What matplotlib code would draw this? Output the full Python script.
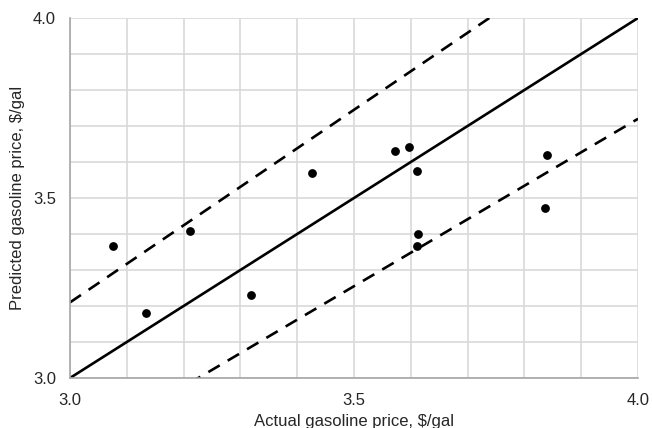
import numpy as np
import matplotlib
matplotlib.use('Agg')
import matplotlib.pyplot as plt

# Observed (actual) vs predicted gasoline prices, $/gal
actual = [3.076, 3.134, 3.211, 3.319, 3.426, 3.572, 3.597, 3.611, 3.613, 3.611, 3.840, 3.836]
predicted = [3.367, 3.181, 3.408, 3.231, 3.569, 3.631, 3.642, 3.575, 3.400, 3.367, 3.619, 3.472]

# Reference lines: 1:1 and +/- 7 % band
line_x = np.array([3.0, 4.0])
band = 0.07

ticks = [3.0, 3.5, 4.0]
grid = np.arange(3.0, 4.01, 0.1)

plt.rcParams['font.family'] = ['Liberation Sans', 'DejaVu Sans']
text_color = '#262626'

fig = plt.figure(figsize=(6.52, 4.28), dpi=100)
ax = fig.add_axes([70 / 652, 50 / 428, 568 / 652, 360 / 428])

for g in grid:
    ax.axvline(g, color='#d9d9d9', linewidth=1.2, zorder=0)
    ax.axhline(g, color='#d9d9d9', linewidth=1.2, zorder=0)

ax.plot(line_x, line_x, color='black', linewidth=1.9, zorder=2)
ax.plot(line_x, line_x * (1 + band), color='black', linewidth=1.9,
        dashes=(5, 3.5), zorder=2)
ax.plot(line_x, line_x * (1 - band), color='black', linewidth=1.9,
        dashes=(5, 3.5), zorder=2)

ax.scatter(actual, predicted, s=28, color='black', zorder=3)

ax.set_xlim(3.0, 4.0)
ax.set_ylim(3.0, 4.0)
ax.set_xticks(ticks)
ax.set_yticks(ticks)
ax.set_xticklabels([f'{t:.1f}' for t in ticks])
ax.set_yticklabels([f'{t:.1f}' for t in ticks])
ax.tick_params(length=0, labelsize=12, colors=text_color, pad=10)
ax.tick_params(axis='x', pad=11)

for side in ['top', 'right']:
    ax.spines[side].set_visible(False)
for side in ['left', 'bottom']:
    ax.spines[side].set_color('#a6a6a6')
    ax.spines[side].set_linewidth(1.2)

ax.set_xlabel('Actual gasoline price, $/gal', fontsize=12, color=text_color, labelpad=4)
ax.set_ylabel('Predicted gasoline price, $/gal', fontsize=12, color=text_color, labelpad=6)

fig.savefig('out.png', dpi=100)
